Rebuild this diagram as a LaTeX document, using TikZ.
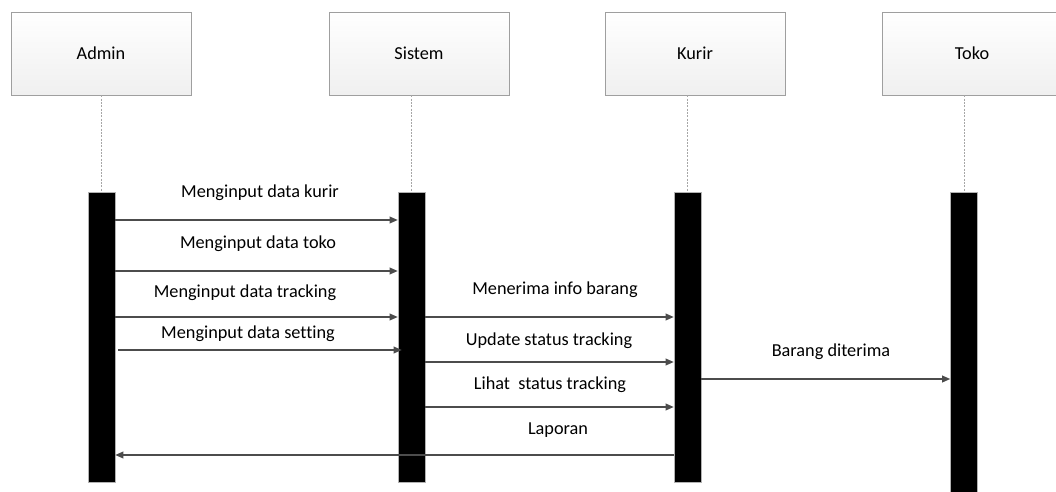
\documentclass[tikz,border=0pt]{standalone}
\usepackage{fontspec}
\setmainfont[Ligatures=NoCommon]{Carlito}
\usetikzlibrary{arrows.meta,shadows}
\tikzset{
  actor/.style={draw=gray!75, line width=0.6pt, top color=white, bottom color=gray!12,
    minimum width=135pt, minimum height=62.25pt, font=\fontsize{13.7}{16}\selectfont,
    drop shadow={shadow xshift=1pt, shadow yshift=-1pt, fill=gray!40, opacity=0.6}},
  bar/.style={fill=black, draw=gray!60, line width=0.4pt, minimum width=20.25pt, inner sep=0pt},
  life/.style={draw=gray!70, dashed, dash pattern=on 1.5pt off 1pt, line width=0.5pt},
  msg/.style={draw=black!70, line width=1pt, -{Triangle[length=6pt,width=5pt]}},
  lbl/.style={font=\fontsize{13.7}{16}\selectfont, inner sep=0pt}
}
\begin{document}
\begin{tikzpicture}[x=0.75pt,y=-0.75pt]
\useasboundingbox (0,0) rectangle (1056,492);
\clip (0,0) rectangle (1056,492);
% actors
\node[actor] (admin) at (101,53.5) {Admin};
\node[actor] (sistem) at (419,53.5) {Sistem};
\node[actor] (kurir) at (695,53.5) {Kurir};
\node[actor] (toko) at (972,53.5) {Toko};
% bars
\node[bar, minimum height=217.5pt] (ba) at (101.5,337) {};
\node[bar, minimum height=217.5pt] (bs) at (411.5,337) {};
\node[bar, minimum height=217.5pt] (bk) at (687.5,337) {};
\node[bar, minimum height=231pt] (bt) at (964,346) {};
% lifelines
\draw[life] (admin.south -| ba.north) -- (ba.north);
\draw[life] (sistem.south -| bs.north) -- (bs.north);
\draw[life] (kurir.south -| bk.north) -- (bk.north);
\draw[life] (toko.south -| bt.north) -- (bt.north);
% messages
\draw[msg] (ba.east |- 0,220) -- (bs.west |- 0,220);
\node[lbl] (l1) at (260,193) {Menginput data kurir};
\draw[msg] (ba.east |- 0,271) -- (bs.west |- 0,271);
\node[lbl] (l2) at (258,244) {Menginput data toko};
\draw[msg] (ba.east |- 0,317) -- (bs.west |- 0,317);
\node[lbl] (l3) at (245,293) {Menginput data tracking};
\draw[msg] ([xshift=2.25pt]ba.east |- 0,350) -- ([xshift=3pt]bs.west |- 0,350);
\node[lbl] (l4) at (248,334) {Menginput data setting};
\draw[msg] (bs.east |- 0,317) -- (bk.west |- 0,317);
\node[lbl] (l5) at (555,290) {Menerima info barang};
\draw[msg] (bs.east |- 0,362) -- (bk.west |- 0,362);
\node[lbl] (l6) at (549,341) {Update status tracking};
\draw[msg] (bs.east |- 0,407) -- (bk.west |- 0,407);
\node[lbl] (l7) at (550,385) {Lihat\ \ status tracking};
\draw[msg] (bk.west |- 0,455) -- (ba.east |- 0,455);
\node[lbl] (l8) at (558,430) {Laporan};
\draw[msg] (bk.east |- 0,379) -- (bt.west |- 0,379);
\node[lbl] (l9) at (831,352) {Barang diterima};
\end{tikzpicture}
\end{document}
